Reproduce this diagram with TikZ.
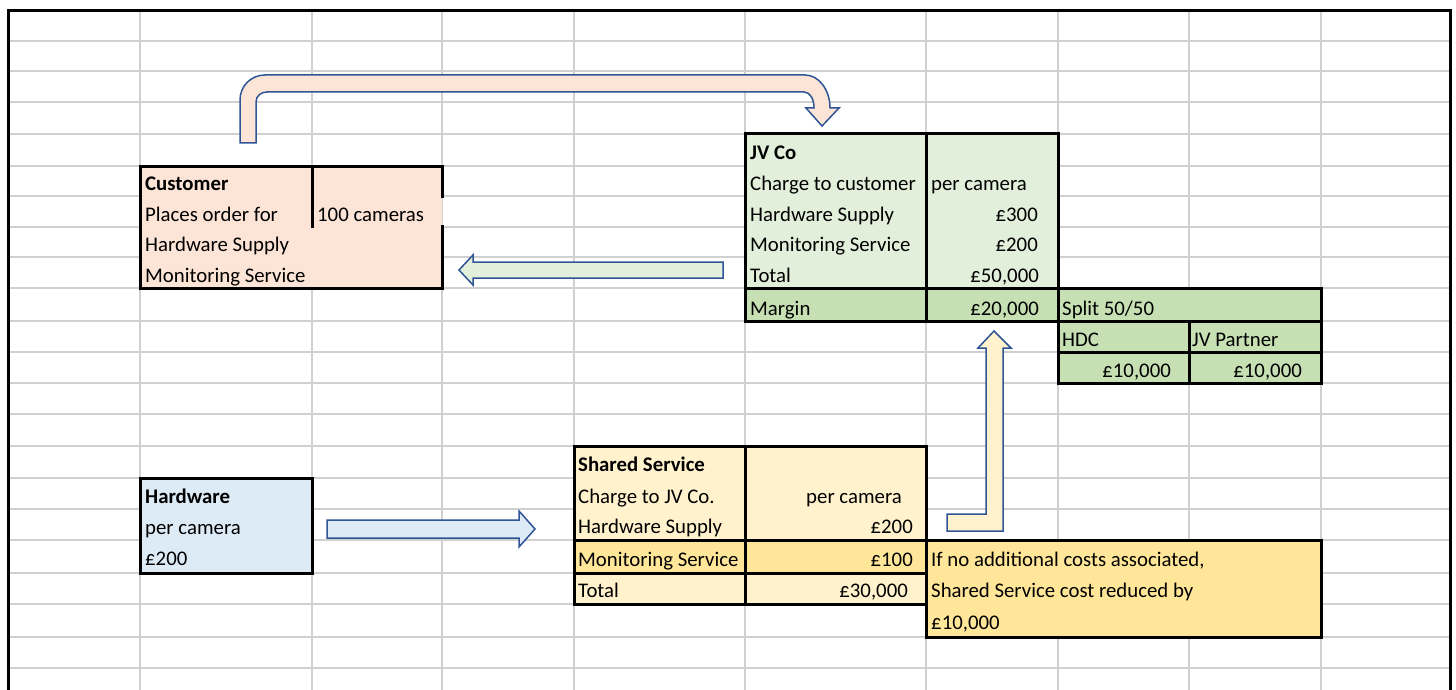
\documentclass[tikz,border=0pt]{standalone}
\usepackage{fontspec}
\setmainfont{Carlito}
\definecolor{gridc}{RGB}{208,208,208}
\definecolor{peach}{RGB}{252,228,214}
\definecolor{lgreen}{RGB}{226,239,218}
\definecolor{mgreen}{RGB}{198,224,180}
\definecolor{lblue}{RGB}{221,235,247}
\definecolor{lyellow}{RGB}{255,242,204}
\definecolor{myellow}{RGB}{255,230,153}
\definecolor{arrowc}{RGB}{47,85,151}
\tikzset{
  gridline/.style={gridc, line width=1.5pt},
  thickb/.style={black, line width=3pt},
  txt/.style={inner sep=0pt, font=\fontsize{20.8}{24}\selectfont},
  lt/.style={txt, anchor=base west},
  rt/.style={txt, anchor=base east},
  bft/.style={lt, font=\fontsize{20.8}{24}\selectfont\bfseries},
  blockarrow/.style={draw=arrowc, line width=1.5pt, line join=miter},
}
\begin{document}
\begin{tikzpicture}[x=1pt,y=-1pt]
\useasboundingbox[fill=white] (0,0) rectangle (1456,690);
% grid
\foreach \gx in {140,312,442,574,745,926,1058,1189,1321}
  \draw[gridline] (\gx,11) -- (\gx,690);
\foreach \gy in {41,71,102,134,166,196,227,257,288,321,352,383,414,446,478,509,540,573,604,637,668}
  \draw[gridline] (8,\gy) -- (1450,\gy);
% frame
\draw[line width=3pt] (8,690) -- (8,11) -- (1450,11) -- (1450,690);

% fills
\fill[peach] (140,166) rectangle (442,288);
\fill[lgreen] (745,134) rectangle (1058,288);
\fill[mgreen] (745,288) rectangle (1058,321);
\fill[mgreen] (1058,288) rectangle (1321,383);
\fill[lblue] (140,478) rectangle (312,573);
\fill[lyellow] (574,446) rectangle (926,604);
\fill[myellow] (574,540) rectangle (926,573);
\fill[myellow] (926,540) rectangle (1321,637);

% borders
\draw[thickb] (442,198) -- (442,166) -- (140,166) -- (140,288) -- (442,288) -- (442,225);
\draw[thickb] (312,166) -- (312,228);
\draw[thickb] (745,134) rectangle (1058,321);
\draw[thickb] (745,288) -- (1058,288);
\draw[thickb] (926,134) -- (926,321);
\draw[thickb] (1058,288) rectangle (1321,383);
\draw[thickb] (1058,321) -- (1321,321);
\draw[thickb] (1058,352) -- (1321,352);
\draw[thickb] (1189,321) -- (1189,383);
\draw[thickb] (140,478) rectangle (312,573);
\draw[thickb] (574,446) rectangle (926,604);
\draw[thickb] (745,446) -- (745,604);
\draw[thickb] (574,540) -- (926,540);
\draw[thickb] (574,573) -- (926,573);
\draw[thickb] (926,540) rectangle (1321,637);

% block arrows
\filldraw[blockarrow, fill=peach] (240,143) -- (240,100) .. controls (240,86) and (251,75) .. (265,75)
  -- (805,75) .. controls (819,75) and (830,90) .. (830,108) -- (839,108) -- (822,126) -- (806,108)
  -- (814,108) .. controls (814,99) and (810,92) .. (804,92) -- (267,92)
  .. controls (261,92) and (256,96) .. (256,102) -- (256,143) -- cycle;
\filldraw[blockarrow, fill=lgreen] (723,262) -- (473,262) -- (473,255) -- (459,270) -- (473,285) -- (473,278) -- (723,278) -- cycle;
\filldraw[blockarrow, fill=lblue] (327,520) -- (519,520) -- (519,511) -- (535,529) -- (519,547) -- (519,538) -- (327,538) -- cycle;
\filldraw[blockarrow, fill=lyellow] (947,514) -- (986,514) -- (986,348) -- (978,348) -- (994,331) -- (1011,348) -- (1003,348) -- (1003,531) -- (947,531) -- cycle;

% Customer
\node[bft] (custT) at (145,190) {Customer};
\node[lt] (custP) at (145,221) {Places order for};
\node[lt] (custQ) at (317,221) {100 cameras};
\node[lt] (custH) at (145,251) {Hardware Supply};
\node[lt] (custM) at (145,282) {Monitoring Service};

% JV Co
\node[bft] (jvT) at (750,160) {JV Co};
\node[lt] (jvC) at (750,190) {Charge to customer};
\node[lt] (jvCv) at (931,190) {per camera};
\node[lt] (jvH) at (750,221) {Hardware Supply};
\node[rt] (jvHv) at (1038,221) {£300};
\node[lt] (jvM) at (750,251) {Monitoring Service};
\node[rt] (jvMv) at (1038,251) {£200};
\node[lt] (jvTo) at (750,282) {Total};
\node[rt] (jvTov) at (1039,282) {£50,000};
\node[lt] (jvMa) at (750,315) {Margin};
\node[rt] (jvMav) at (1039,315) {£20,000};
\node[lt] (spl) at (1062,315) {Split 50/50};
\node[lt] (hdc) at (1062,346) {HDC};
\node[lt] (jvp) at (1192,346) {JV Partner};
\node[rt] (hdcv) at (1171,377) {£10,000};
\node[rt] (jvpv) at (1302,377) {£10,000};

% Hardware
\node[bft] (hwT) at (145,503) {Hardware };
\node[lt] (hwP) at (145,534) {per camera};
\node[lt] (hwV) at (145,565) {£200};

% Shared Service
\node[bft] (ssT) at (578,471) {Shared Service};
\node[lt] (ssC) at (578,503) {Charge to JV Co.};
\node[rt] (ssCv) at (902,503) {per camera};
\node[lt] (ssH) at (578,533) {Hardware Supply};
\node[rt] (ssHv) at (913,533) {£200};
\node[lt] (ssM) at (578,566) {Monitoring Service};
\node[rt] (ssMv) at (913,566) {£100};
\node[lt] (ssTo) at (578,597) {Total};
\node[rt] (ssTov) at (908,597) {£30,000};

% Note
\node[lt] (n1) at (931,566) {If no additional costs associated,};
\node[lt] (n2) at (931,597) {Shared Service cost reduced by };
\node[lt] (n3) at (931,629) {£10,000};
\end{tikzpicture}
\end{document}
